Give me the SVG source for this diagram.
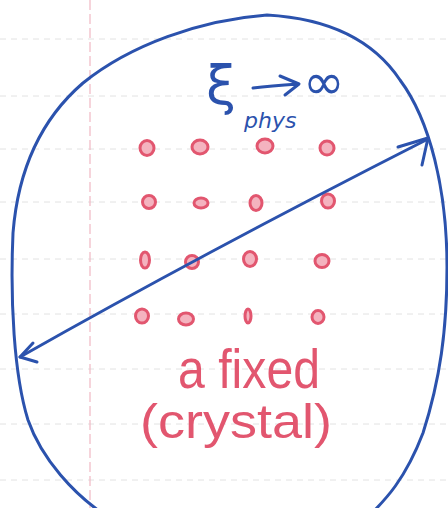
<svg xmlns="http://www.w3.org/2000/svg" width="448" height="508" viewBox="0 0 448 508">
<style>
.rule{stroke:#e2e2e2;stroke-width:1;stroke-dasharray:6 5;}
.blue{fill:none;stroke:#2b52ad;stroke-width:3;stroke-linecap:round;stroke-linejoin:round;}
.dot{fill:#f4b3bf;stroke:#e2566f;stroke-width:3;}
.bt{fill:#2b52ad;font-family:"DejaVu Sans","Liberation Sans",sans-serif;}
.rt{fill:#e2566f;font-family:"Liberation Sans","DejaVu Sans",sans-serif;}
</style>
<rect width="448" height="508" fill="#ffffff"/>
<g id="paper">
<line class="rule" x1="0" y1="39" x2="448" y2="39"/>
<line class="rule" x1="0" y1="96" x2="448" y2="96"/>
<line class="rule" x1="0" y1="149" x2="448" y2="149"/>
<line class="rule" x1="0" y1="202" x2="448" y2="202"/>
<line class="rule" x1="0" y1="259" x2="448" y2="259"/>
<line class="rule" x1="0" y1="314" x2="448" y2="314"/>
<line class="rule" x1="0" y1="369" x2="448" y2="369"/>
<line class="rule" x1="0" y1="424" x2="448" y2="424"/>
<line class="rule" x1="0" y1="480" x2="448" y2="480"/>
<line x1="90" y1="0" x2="90" y2="508" stroke="#f0b8c4" stroke-width="1.2" stroke-dasharray="10 4"/>
</g>
<g id="crystal-boundary">
<path class="blue" d="M267,15 C320,18 370,35 400,80 C430,120 447,190 447,267 C447,330 440,380 423,433 C405,480 385,500 370,515 L105,515 C75,495 42,460 28,420 C14,375 10,300 13,233 C18,170 40,120 83,83 C130,45 200,20 267,15 Z"/>
</g>
<g id="lattice">
<ellipse class="dot" cx="147" cy="148" rx="7" ry="7.5"/>
<ellipse class="dot" cx="200" cy="147" rx="8" ry="7"/>
<ellipse class="dot" cx="265" cy="146" rx="8" ry="7"/>
<ellipse class="dot" cx="327" cy="148" rx="7" ry="7"/>
<ellipse class="dot" cx="149" cy="202" rx="6.5" ry="6.5"/>
<ellipse class="dot" cx="201" cy="203" rx="7" ry="5"/>
<ellipse class="dot" cx="256" cy="203" rx="6" ry="7.5"/>
<ellipse class="dot" cx="328" cy="201" rx="6.5" ry="7"/>
<ellipse class="dot" cx="145" cy="260" rx="4.5" ry="8"/>
<ellipse class="dot" cx="192" cy="262" rx="6.5" ry="6.5"/>
<ellipse class="dot" cx="250" cy="259" rx="6.5" ry="7.5"/>
<ellipse class="dot" cx="322" cy="261" rx="7" ry="6.5"/>
<ellipse class="dot" cx="142" cy="316" rx="6.5" ry="7"/>
<ellipse class="dot" cx="186" cy="319" rx="7.5" ry="6"/>
<ellipse class="dot" cx="248" cy="316" rx="3" ry="7"/>
<ellipse class="dot" cx="318" cy="317" rx="6" ry="6.5"/>
</g>
<g id="connectors">
<path class="blue" d="M20,357 Q200,255 428,139"/>
<path class="blue" d="M33,343 L20,357 L37,362"/>
<path class="blue" d="M398,147 L428,138 L422,165"/>
<path class="blue" d="M253,88 C268,86 282,85 298,84 M280,76 L299,84 L285,95"/>
</g>
<g id="label-xi">
<text class="bt" x="206" y="104" font-size="54">ξ</text>
<text class="bt" x="244" y="128" font-size="22" font-style="italic">phys</text>
<text class="bt" x="303" y="99" font-size="50">∞</text>
</g>
<g id="label-crystal">
<text class="rt" x="178" y="388" font-size="56" textLength="142" lengthAdjust="spacingAndGlyphs">a fixed</text>
<text class="rt" x="140" y="438" font-size="48" textLength="192" lengthAdjust="spacingAndGlyphs">(crystal)</text>
</g>
</svg>
